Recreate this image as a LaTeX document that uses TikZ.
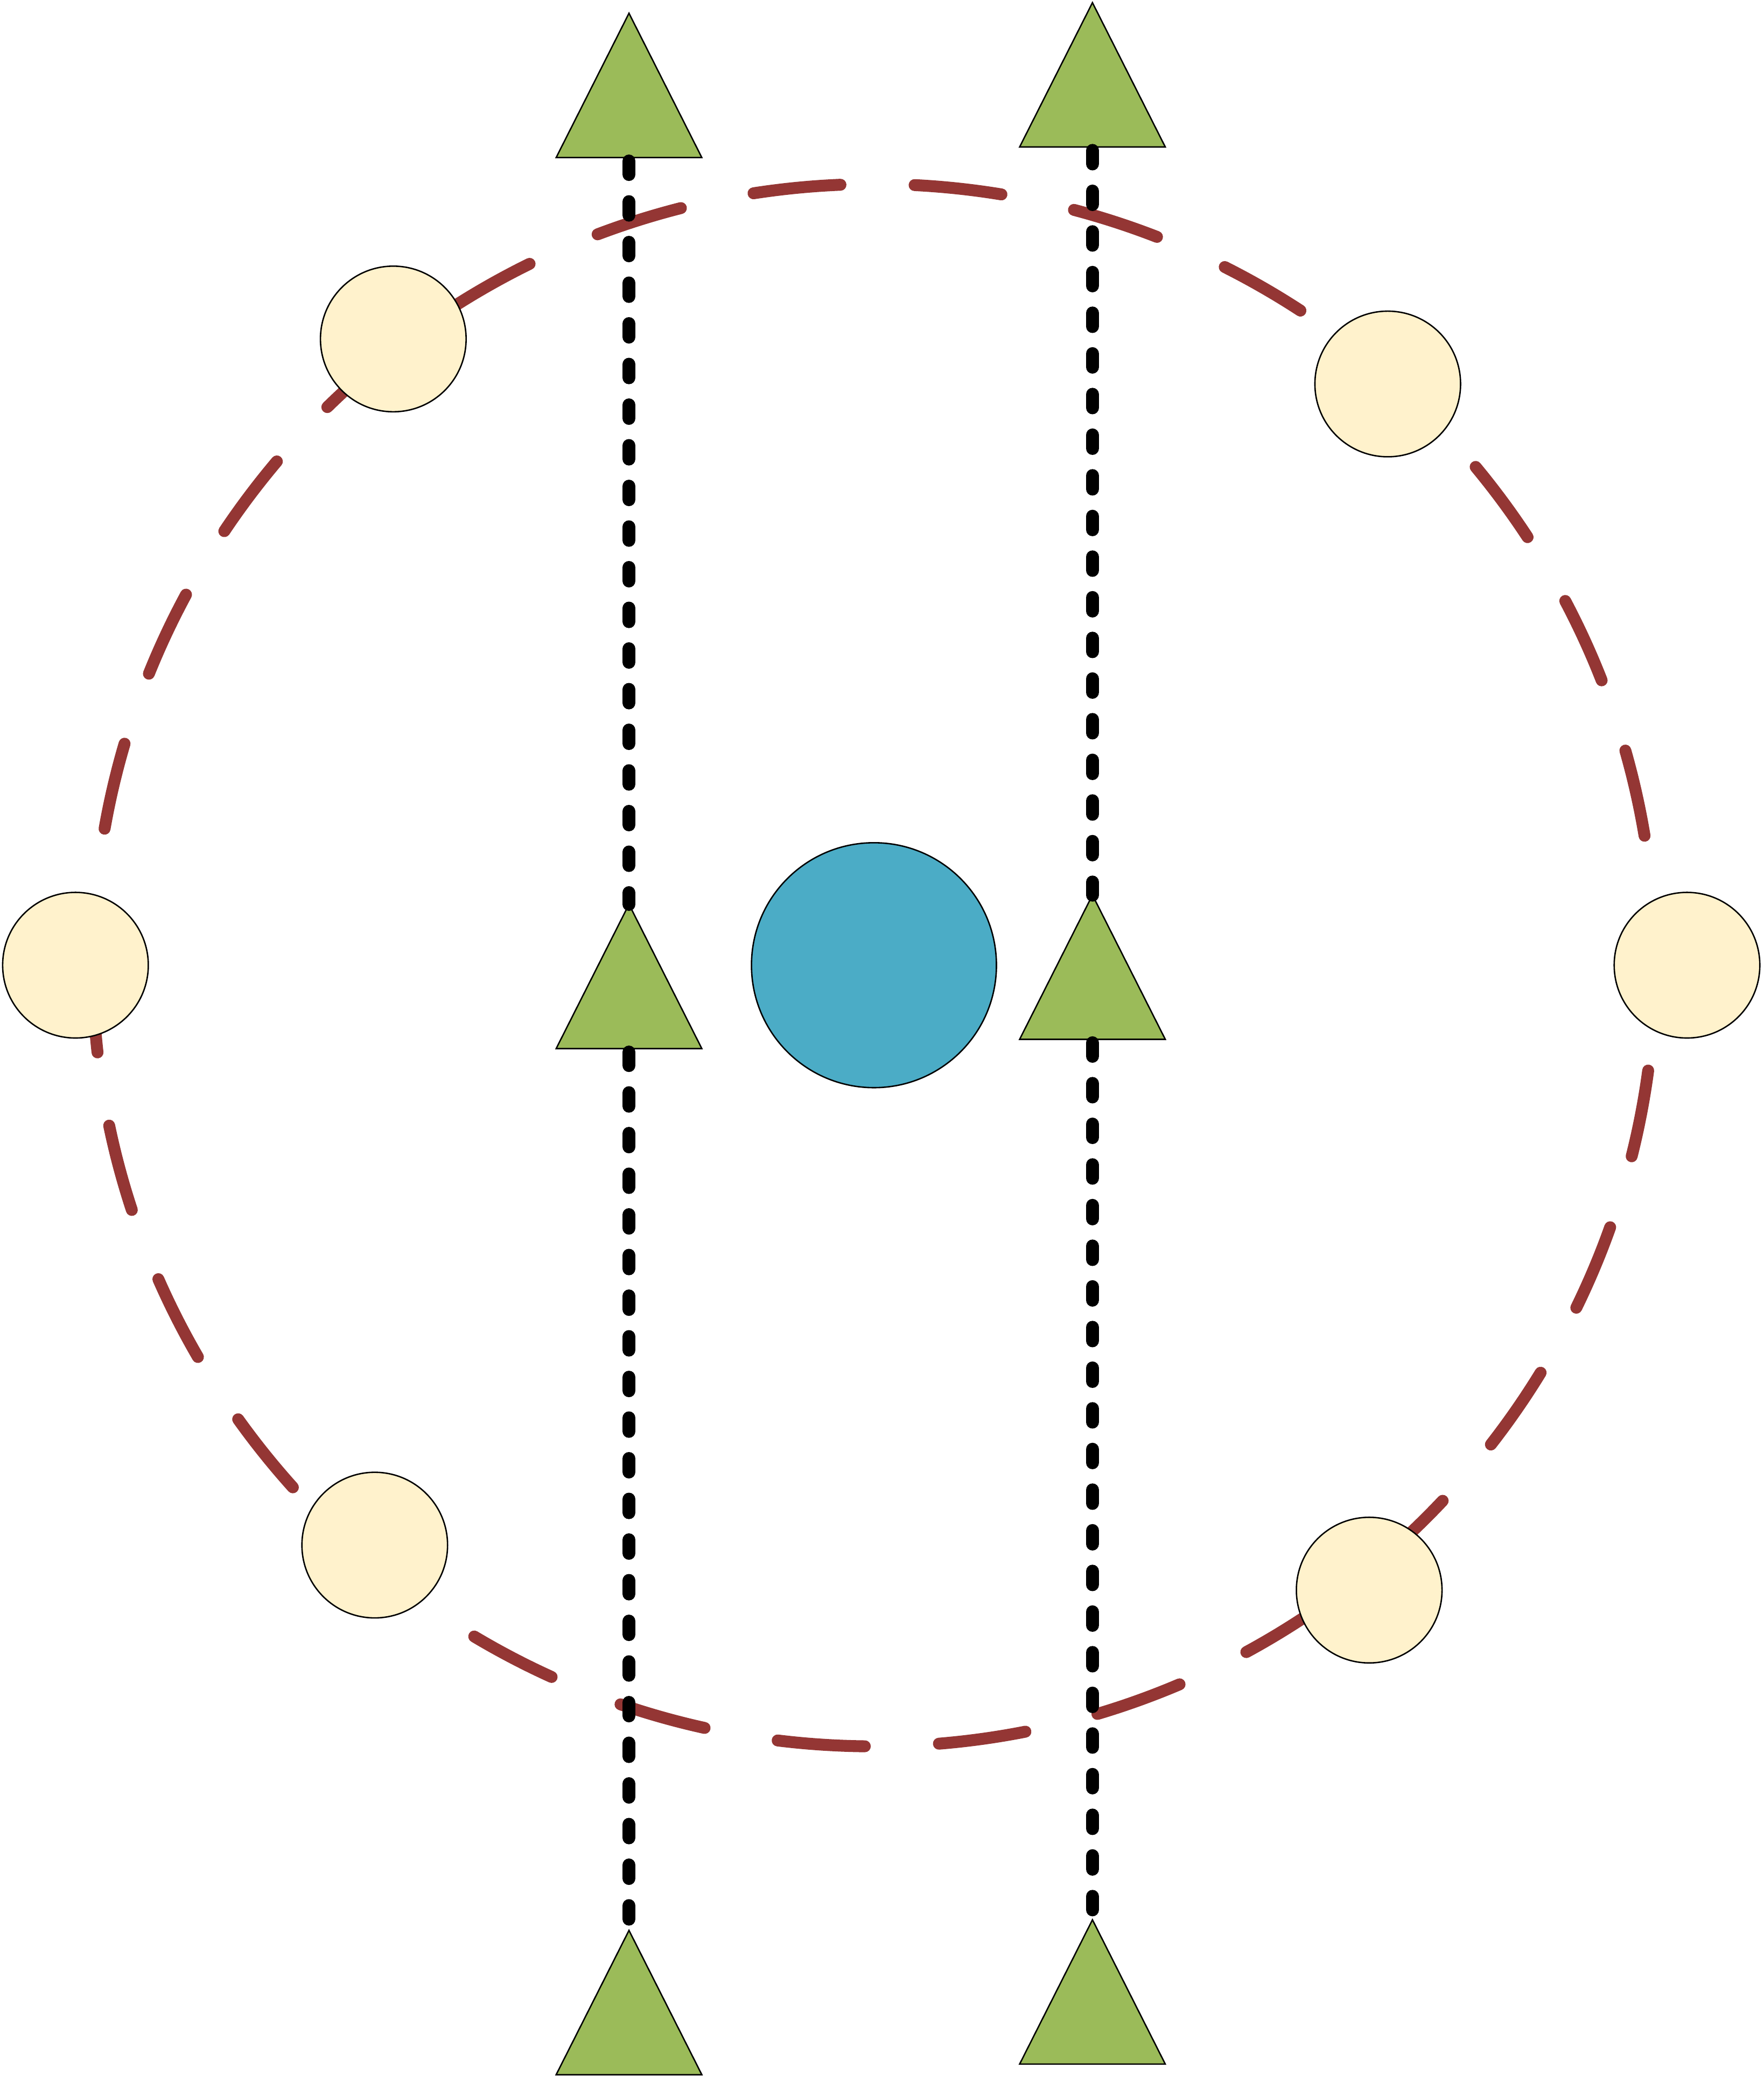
\documentclass[tikz,border=0pt]{standalone}
\usetikzlibrary{positioning}
\definecolor{ringred}{HTML}{943634}
\definecolor{treegreen}{HTML}{9BBB59}
\definecolor{stonecream}{HTML}{FFF2CC}
\definecolor{poolblue}{HTML}{4BACC6}
\tikzset{
    ring/.style={line width=0.9mm, draw=ringred, line cap=round, dash pattern=on 6.6mm off 5.6mm},
    track/.style={line width=1mm, line cap=round, dash pattern=on 1mm off 2.07mm, dash phase=2.8mm},
    stone/.style={circle, draw, line width=0.3pt, fill=stonecream, minimum size=11mm, inner sep=0pt},
    pool/.style={circle, draw, line width=0.3pt, fill=poolblue, minimum size=18.5mm, inner sep=0pt},
    tree/.style={draw, line width=0.3pt, fill=treegreen}
}
\begin{document}
\begin{tikzpicture}[x=0.1mm, y=-0.1mm]
    \useasboundingbox (0,0) rectangle (1332,1568);
    \node[pool] (pool) at (660,729) {};
    \draw[ring] ([xshift=-59mm]pool.center) arc [start angle=180, end angle=540, radius=59mm];
    \foreach \n/\x/\y in {tl/475/10, ml/475/683, bl/475/1458, tr/825/2, mr/825/676, br/825/1450} {
        \coordinate (\n) at (\x,\y);
        \coordinate (\n-b) at (\x,\y+109);
        \draw[tree] (\n) -- ++(-55,109) -- ++(110,0) -- cycle;
    }
    \draw[track] (tl-b) -- (ml);
    \draw[track] (ml-b) -- (bl);
    \draw[track] (tr-b) -- (mr);
    \draw[track] (mr-b) -- (br);
    \node[stone] (s1) at (297,256) {};
    \node[stone] (s2) at (1048,290) {};
    \node[stone] (s3) at (57,729) {};
    \node[stone] (s4) at (1274,729) {};
    \node[stone] (s5) at (283,1167) {};
    \node[stone] (s6) at (1034,1201) {};
\end{tikzpicture}
\end{document}
